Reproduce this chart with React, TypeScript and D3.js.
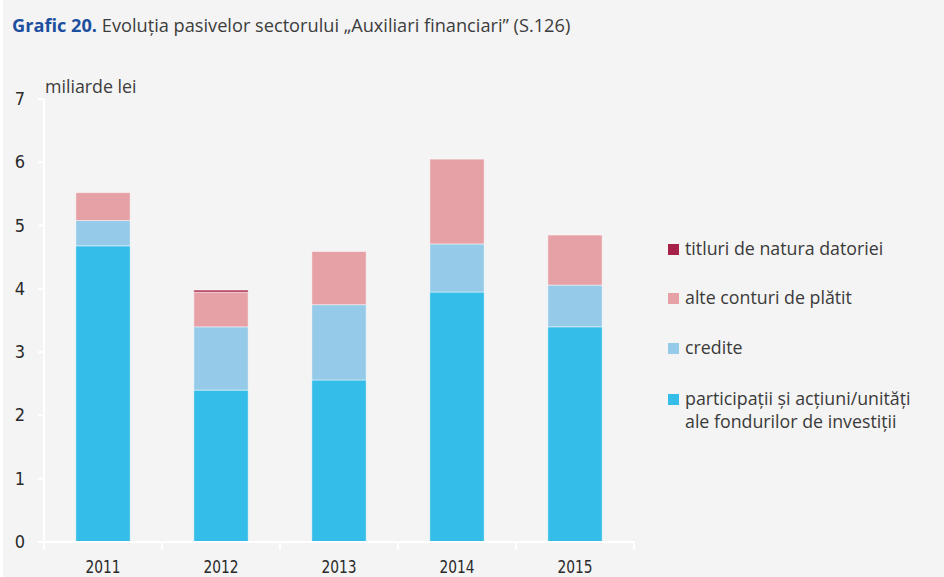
import React from "react";
import * as d3 from "d3";

const years = ["2011", "2012", "2013", "2014", "2015"];
const participatii = [4.68, 2.4, 2.56, 3.95, 3.4];
const credite = [0.4, 1.0, 1.19, 0.76, 0.66];
const alteConturi = [0.44, 0.55, 0.84, 1.34, 0.79];
const titluri = [0, 0.03, 0, 0, 0];
const yTicks = [0, 1, 2, 3, 4, 5, 6, 7];

const seriesNames = [
  "participații și acțiuni/unități ale fondurilor de investiții",
  "credite",
  "alte conturi de plătit",
  "titluri de natura datoriei",
];
const colors = ["#33bde8", "#95cbe8", "#e6a1a6", "#a52148"];

const W = 944;
const H = 577;
const condensed = "'Liberation Sans Narrow', 'DejaVu Sans Condensed', 'Open Sans', sans-serif";
const body = "'Open Sans', 'Noto Sans', sans-serif";

export default function App() {
  const x = d3.scaleBand<string>().domain(years).range([44, 634]).paddingInner(0.54).paddingOuter(0.27);
  const y = d3.scaleLinear().domain([0, 7]).range([542, 99]);

  const table = years.map((yr, i) => ({
    year: yr,
    s0: participatii[i],
    s1: credite[i],
    s2: alteConturi[i],
    s3: titluri[i],
  }));
  const stack = d3.stack<any>().keys(["s0", "s1", "s2", "s3"]);
  const layers = stack(table);

  const step = (634 - 44) / years.length;
  const boundaries = d3.range(years.length + 1).map((i) => 44 + i * step);

  const legend = [
    { idx: 3, lines: ["titluri de natura datoriei"], base: 255 },
    { idx: 2, lines: ["alte conturi de plătit"], base: 304 },
    { idx: 1, lines: ["credite"], base: 354 },
    { idx: 0, lines: ["participații și acțiuni/unități", "ale fondurilor de investiții"], base: 405 },
  ];

  return (
    <svg width={W} height={H} style={{ position: "fixed", left: 0, top: 0 }}>
      <rect x={0} y={0} width={W} height={H} fill="#ffffff" />
      <rect x={3} y={0} width={W - 3} height={H} fill="#f4f4f4" />
      <text x={12} y={32} fontFamily={body} fontSize={18.2} fill="#3c3c3c">
        <tspan fontWeight="bold" fill="#1d4f9f">Grafic 20.</tspan>
        <tspan> Evoluția pasivelor sectorului „Auxiliari financiari” (S.126)</tspan>
      </text>
      <text x={45} y={93} fontFamily={body} fontSize={17.8} fill="#3c3c3c">miliarde lei</text>

      {layers.map((layer, li) =>
        layer.map((d, i) => {
          const h = y(d[0]) - y(d[1]);
          if (h <= 0) return null;
          return (
            <rect
              key={`${li}-${i}`}
              x={x(years[i])!}
              y={y(d[1])}
              width={x.bandwidth()}
              height={h}
              fill={colors[li]}
              stroke="#ffffff"
              strokeOpacity={0.45}
              strokeWidth={1}
            />
          );
        })
      )}

      <line x1={44} x2={44} y1={99} y2={549} stroke="#ffffff" strokeWidth={2} />
      <line x1={38} x2={635} y1={542} y2={542} stroke="#ffffff" strokeWidth={2} />
      {yTicks.map((t) => (
        <g key={t}>
          <line x1={38} x2={44} y1={y(t)} y2={y(t)} stroke="#ffffff" strokeWidth={2} />
          <text x={25} y={y(t) + 6} textAnchor="end" fontFamily={condensed} fontSize={18} fill="#2a2a2a">
            {t}
          </text>
        </g>
      ))}
      {boundaries.map((b, i) => (
        <line key={i} x1={b} x2={b} y1={542} y2={550} stroke="#ffffff" strokeWidth={2} />
      ))}
      {years.map((yr) => (
        <text
          key={yr}
          x={x(yr)! + x.bandwidth() / 2}
          y={573}
          textAnchor="middle"
          fontFamily={condensed}
          fontSize={17}
          textLength={35}
          lengthAdjust="spacingAndGlyphs"
          fill="#2a2a2a"
        >
          {yr}
        </text>
      ))}

      {legend.map((l) => (
        <g key={l.idx}>
          <rect x={668} y={l.base - 11} width={11} height={11} fill={colors[l.idx]} />
          {l.lines.map((ln, k) => (
            <text key={k} x={685} y={l.base + k * 23} fontFamily={body} fontSize={17.8} fill="#3a3a3a">
              {ln}
            </text>
          ))}
        </g>
      ))}
    </svg>
  );
}
